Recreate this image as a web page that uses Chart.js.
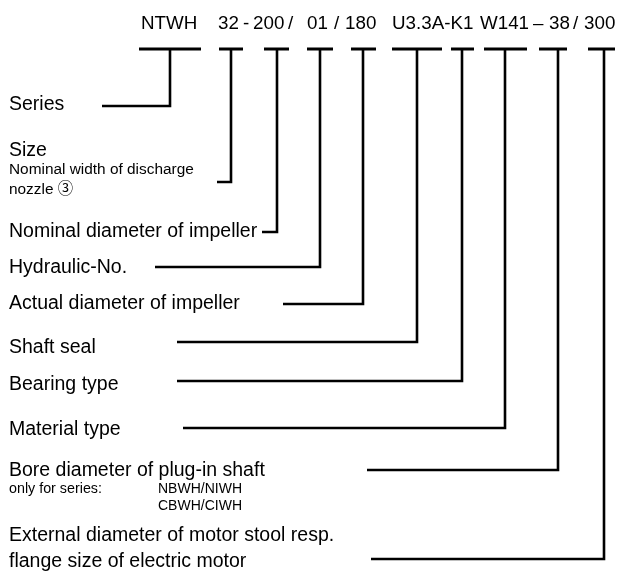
<!DOCTYPE html>
<html>
<head>
<meta charset="utf-8">
<script src="https://cdn.jsdelivr.net/npm/chart.js@4"></script>
<style>
html,body{margin:0;padding:0;background:#fff;}
#c{display:block;}
</style>
</head>
<body>
<canvas id="c" width="621" height="576"></canvas>
<script>
// ---- type-key content ----
const codeTokens = ["NTWH","32","-","200","/","01","/","180","U3.3A-K1","W141","\u2013","38","/","300"];
const descriptions = ["Series","Size","Nominal diameter of impeller","Hydraulic-No.","Actual diameter of impeller","Shaft seal","Bearing type","Material type","Bore diameter of plug-in shaft","External diameter of motor stool resp."];
const notes = ["Nominal width of discharge","nozzle \u2462","only for series:","NBWH/NIWH","CBWH/CIWH","flange size of electric motor"];

// ---- connector geometry (diagram units = px of the 621x576 sheet) ----
const barY = 49;
const barLeft  = [139,219,264,307,351,392,451,484,539,588];
const barRight = [201,243,289,333,376,442,474,527,567,615];
const stemX    = [170,231,277,320,363,417,462,505,558,604];
const rowY     = [106,182,232,267,304,342,381,428,470,559];
const lineStart= [102,217,262,155,283,177,177,183,367,371];

// ---- text layout ----
const codeTokenX = [141,218,243,253,288,307,334,345,392,480,533,549,573,584];
const codeBaseline = 29;
const codeSize = 18.8;
const descX = 9;
const descSize = 19.5;
const descBaseline = [110,156,237,273,309,353,390,435,476,541];
const noteX = [9,9,9,158,158,9];
const noteBaseline = [174,194,493,493,510,567];
const noteSize = [15.4,15.4,14.3,14,14,19.5];

const FONT = '"Liberation Sans", Arial, "Noto Sans CJK JP", "DejaVu Sans", sans-serif';

const datasets = [];
for (let i = 0; i < stemX.length; i++) {
  datasets.push({
    data: [{x: barLeft[i], y: barY}, {x: barRight[i], y: barY}],
    borderColor: '#000', borderWidth: 3, showLine: true, pointRadius: 0,
    borderCapStyle: 'butt'
  });
  datasets.push({
    data: [{x: stemX[i], y: barY}, {x: stemX[i], y: rowY[i]}, {x: lineStart[i], y: rowY[i]}],
    borderColor: '#000', borderWidth: 2.6, showLine: true, pointRadius: 0,
    borderJoinStyle: 'miter', borderCapStyle: 'butt', tension: 0
  });
}

const textPlugin = {
  id: 'texts',
  afterDraw(chart) {
    const ctx = chart.ctx, xs = chart.scales.x, ys = chart.scales.y;
    ctx.save();
    ctx.fillStyle = '#000';
    ctx.textBaseline = 'alphabetic';
    ctx.textAlign = 'left';
    ctx.font = codeSize + 'px ' + FONT;
    codeTokens.forEach((t, i) => {
      ctx.fillText(t, xs.getPixelForValue(codeTokenX[i]), ys.getPixelForValue(codeBaseline));
    });
    ctx.font = descSize + 'px ' + FONT;
    descriptions.forEach((t, i) => {
      ctx.fillText(t, xs.getPixelForValue(descX), ys.getPixelForValue(descBaseline[i]));
    });
    notes.forEach((t, i) => {
      ctx.font = noteSize[i] + 'px ' + FONT;
      ctx.fillText(t, xs.getPixelForValue(noteX[i]), ys.getPixelForValue(noteBaseline[i]));
    });
    ctx.restore();
  }
};

new Chart(document.getElementById('c'), {
  type: 'scatter',
  data: { datasets },
  options: {
    responsive: false,
    animation: false,
    events: [],
    layout: { padding: 0 },
    plugins: { legend: { display: false }, tooltip: { enabled: false } },
    scales: {
      x: { type: 'linear', min: 0, max: 621, display: false },
      y: { type: 'linear', min: 0, max: 576, reverse: true, display: false }
    }
  },
  plugins: [textPlugin]
});
</script>
</body>
</html>
